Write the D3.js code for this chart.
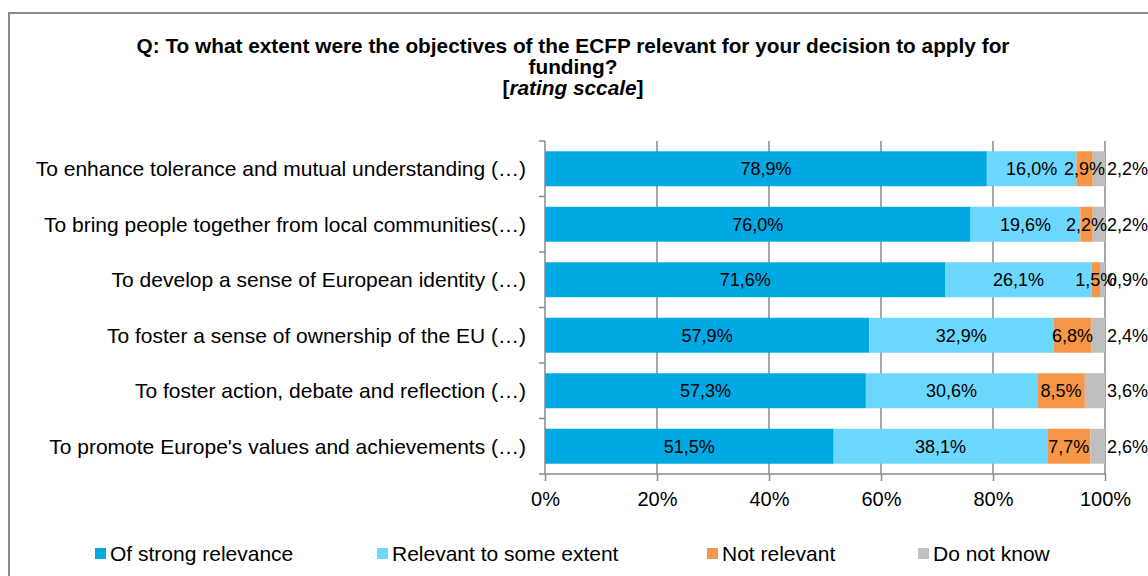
<!DOCTYPE html>
<html>
<head>
<meta charset="utf-8">
<script src="https://cdn.jsdelivr.net/npm/d3@7"></script>
<style>
  body { margin: 0; background: #fff; }
  svg { font-family: Arial, "Liberation Sans", sans-serif; }
</style>
</head>
<body>
<div id="chart"></div>
<script>
// Rating scale data
var categories = [
  "To enhance tolerance and mutual understanding (\u2026)",
  "To bring people together from local communities(\u2026)",
  "To develop a sense of European identity (\u2026)",
  "To foster a sense of ownership of the EU (\u2026)",
  "To foster action, debate and reflection (\u2026)",
  "To promote Europe's values and achievements (\u2026)"
];
var seriesNames = ["Of strong relevance", "Relevant to some extent", "Not relevant", "Do not know"];
var strong = [78.9, 76.0, 71.6, 57.9, 57.3, 51.5];
var some = [16.0, 19.6, 26.1, 32.9, 30.6, 38.1];
var notRel = [2.9, 2.2, 1.5, 6.8, 8.5, 7.7];
var dontKnow = [2.2, 2.2, 0.9, 2.4, 3.6, 2.6];
var xTicks = [0, 20, 40, 60, 80, 100];

var colors = ["#00A9E4", "#6CD7FF", "#F79646", "#BFBFBF"];

var svgWidth = 1148;
var svgHeight = 576;

var margin = { top: 141, right: 43, bottom: 102, left: 545 };
var width = svgWidth - margin.left - margin.right;
var height = svgHeight - margin.top - margin.bottom;

var svg = d3.select("#chart").append("svg")
  .attr("width", svgWidth)
  .attr("height", svgHeight);

// outer frame
svg.append("rect")
  .attr("x", 9)
  .attr("y", 13)
  .attr("width", svgWidth + 20)
  .attr("height", svgHeight + 20)
  .attr("fill", "none")
  .attr("stroke", "#8a8a8a")
  .attr("stroke-width", 2);

// title
var title = svg.append("text")
  .attr("x", 573)
  .attr("text-anchor", "middle")
  .attr("font-weight", "bold")
  .attr("font-size", "20.8px")
  .attr("fill", "#000");
title.append("tspan").attr("x", 573).attr("y", 53)
  .text("Q: To what extent were the objectives of the ECFP relevant for your decision to apply for");
title.append("tspan").attr("x", 573).attr("y", 74).text("funding?");
var t3 = title.append("tspan").attr("x", 573).attr("y", 95);
t3.append("tspan").text("[");
t3.append("tspan").attr("font-style", "italic").text("rating sccale");
t3.append("tspan").text("]");

var chartGroup = svg.append("g")
  .attr("transform", `translate(${margin.left}, ${margin.top})`);

var xScale = d3.scaleLinear().domain([0, 100]).range([0, width]);
var yScale = d3.scaleBand()
  .domain(categories)
  .range([0, height])
  .paddingInner(0.37)
  .paddingOuter(0.185);

// gridlines
chartGroup.selectAll(".grid")
  .data(xTicks.slice(1))
  .enter()
  .append("line")
  .attr("x1", d => xScale(d))
  .attr("x2", d => xScale(d))
  .attr("y1", 0)
  .attr("y2", height)
  .attr("stroke", "#8a8a8a")
  .attr("stroke-width", 1.5);

// stacked rows
var rows = categories.map(function(c, i) {
  var vals = [strong[i], some[i], notRel[i], dontKnow[i]];
  var total = d3.sum(vals);
  var x0 = 0;
  return vals.map(function(v, j) {
    var seg = { cat: c, series: j, value: v, x0: x0 / total * 100, x1: (x0 + v) / total * 100 };
    x0 += v;
    return seg;
  });
});
var segments = rows.flat();

chartGroup.selectAll(".seg")
  .data(segments)
  .enter()
  .append("rect")
  .attr("x", d => xScale(d.x0))
  .attr("width", d => xScale(d.x1) - xScale(d.x0))
  .attr("y", d => yScale(d.cat))
  .attr("height", yScale.bandwidth())
  .attr("fill", d => colors[d.series]);

var fmt = d => d3.format(".1f")(d).replace(".", ",") + "%";

chartGroup.selectAll(".segLabel")
  .data(segments)
  .enter()
  .append("text")
  .attr("x", d => d.series === 3 ? width + 2 : xScale((d.x0 + d.x1) / 2))
  .attr("y", d => yScale(d.cat) + yScale.bandwidth() / 2)
  .attr("dy", "0.36em")
  .attr("text-anchor", d => d.series === 3 ? "start" : "middle")
  .attr("font-size", "18px")
  .attr("fill", "#000")
  .text(d => fmt(d.value));

// x axis
var bottomAxis = d3.axisBottom(xScale)
  .tickValues(xTicks)
  .tickSize(7)
  .tickPadding(11)
  .tickFormat(d => d + "%");

var xAxis = chartGroup.append("g")
  .attr("transform", `translate(0, ${height})`)
  .call(bottomAxis);
xAxis.select(".domain").attr("stroke", "#8a8a8a").attr("stroke-width", 1.5)
  .attr("d", `M0,0H${width}`);
xAxis.selectAll(".tick line").attr("stroke", "#8a8a8a").attr("stroke-width", 1.5);
xAxis.selectAll(".tick text")
  .attr("font-size", "20px")
  .attr("font-family", "Arial, 'Liberation Sans', sans-serif")
  .attr("fill", "#000");

// y axis line + ticks at band boundaries
chartGroup.append("line")
  .attr("x1", 0).attr("x2", 0)
  .attr("y1", 0).attr("y2", height)
  .attr("stroke", "#8a8a8a")
  .attr("stroke-width", 1.5);

var bounds = d3.range(categories.length + 1).map(i => i * yScale.step());
chartGroup.selectAll(".ytick")
  .data(bounds)
  .enter()
  .append("line")
  .attr("x1", -6).attr("x2", 0)
  .attr("y1", d => d).attr("y2", d => d)
  .attr("stroke", "#8a8a8a")
  .attr("stroke-width", 1.5);

chartGroup.selectAll(".catLabel")
  .data(categories)
  .enter()
  .append("text")
  .attr("x", -19)
  .attr("y", d => yScale(d) + yScale.bandwidth() / 2)
  .attr("dy", "0.36em")
  .attr("text-anchor", "end")
  .attr("font-size", "21px")
  .attr("fill", "#000")
  .text(d => d);

// legend
var legendX = [95, 377, 707, 918];
var legend = svg.selectAll(".legend")
  .data(seriesNames)
  .enter()
  .append("g")
  .attr("transform", (d, i) => `translate(${legendX[i]}, 553)`);

legend.append("rect")
  .attr("x", 0)
  .attr("y", -5)
  .attr("width", 11)
  .attr("height", 11)
  .attr("fill", (d, i) => colors[i]);

legend.append("text")
  .attr("x", 15)
  .attr("y", 0)
  .attr("dy", "0.36em")
  .attr("font-size", "21px")
  .attr("fill", "#000")
  .text(d => d);
</script>
</body>
</html>
